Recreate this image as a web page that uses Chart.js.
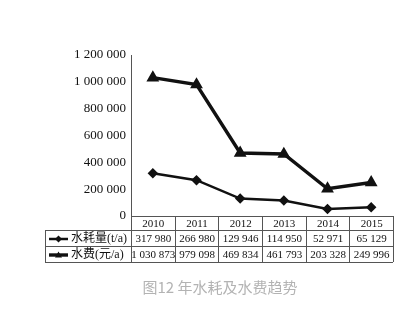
<!DOCTYPE html>
<html>
<head>
<meta charset="utf-8">
<script src="https://cdn.jsdelivr.net/npm/chart.js@4/dist/chart.umd.min.js"></script>
<style>
html,body{margin:0;padding:0;background:#fff;}
#wrap{position:relative;width:414px;height:313px;}
#caption{position:absolute;left:0;width:440px;top:276px;text-align:center;
font-family:"Noto Sans CJK SC","Noto Sans",sans-serif;font-size:15px;color:#b3b3b3;}
</style>
</head>
<body>
<div id="wrap">
<canvas id="grafico" width="414" height="313"></canvas>
<div id="caption">图12 年水耗及水费趋势</div>
</div>
<script>
// =======================================
// 年水耗及水费趋势
// =======================================

let anos=["2010","2011","2012","2013","2014","2015"];

let nomes=["水耗量(t/a)","水费(元/a)"];

let consumo=[317980,266980,129946,114950,52971,65129];

let custo=[1030873,979098,469834,461793,203328,249996];

let yTicks=[0,200000,400000,600000,800000,1000000,1200000];


function fmt(v){
return String(v).replace(/\B(?=(\d{3})+(?!\d))/g," ");
}

const serif='"Liberation Serif","Noto Sans CJK SC",serif';

// tabela de dados abaixo do gráfico
const tabela={
id:"tabela",
afterDraw(chart){
let ctx=chart.ctx;
let x=chart.scales.x;
let ca=chart.chartArea;
let w=(ca.right-ca.left)/anos.length;
let esq=45;
let rows=[ca.bottom,ca.bottom+14,ca.bottom+30,ca.bottom+46];

ctx.save();
ctx.strokeStyle="#555";
ctx.lineWidth=1;
ctx.beginPath();
for(let r=1;r<4;r++){
ctx.moveTo(esq,rows[r]+0.5);
ctx.lineTo(ca.right,rows[r]+0.5);
}
ctx.moveTo(esq+0.5,rows[1]);
ctx.lineTo(esq+0.5,rows[3]);
for(let i=0;i<=anos.length;i++){
let px=Math.round(ca.left+i*w)+0.5;
ctx.moveTo(px,rows[0]);
ctx.lineTo(px,rows[3]);
}
ctx.stroke();

ctx.fillStyle="#111";
ctx.font="11px "+serif;
ctx.textAlign="center";
ctx.textBaseline="middle";
anos.forEach((a,i)=>{
let cx=x.getPixelForValue(i)+0.5;
ctx.fillText(a,cx,(rows[0]+rows[1])/2+1);
ctx.fillText(fmt(consumo[i]),cx,(rows[1]+rows[2])/2+1);
ctx.fillText(fmt(custo[i]),cx,(rows[2]+rows[3])/2+1);
});

// legendas
let series=chart.data.datasets;
ctx.font="12px "+serif;
[1,2].forEach((r,k)=>{
let cy=(rows[r]+rows[r+1])/2+1;
let ds=series[k];
ctx.strokeStyle="#111";
ctx.lineWidth=ds.borderWidth;
ctx.beginPath();
ctx.moveTo(49,cy);
ctx.lineTo(68,cy);
ctx.stroke();
ctx.fillStyle="#111";
ctx.beginPath();
if(ds.pointStyle==="triangle"){
ctx.moveTo(58.5,cy-3.5);ctx.lineTo(62,cy+2.5);ctx.lineTo(55,cy+2.5);
}else{
ctx.moveTo(58.5,cy-3.5);ctx.lineTo(62,cy);ctx.lineTo(58.5,cy+3.5);ctx.lineTo(55,cy);
}
ctx.closePath();
ctx.fill();
ctx.textAlign="left";
ctx.fillText(nomes[k],71,cy);
ctx.textAlign="center";
});
ctx.restore();
}
};


new Chart(
document.getElementById("grafico"),
{
type:"line",
data:{
labels:anos,
datasets:[
{
label:nomes[0],
data:consumo,
borderColor:"#111",
backgroundColor:"#111",
borderWidth:2.5,
pointStyle:"rectRot",
pointRadius:3.5,
tension:0
},
{
label:nomes[1],
data:custo,
borderColor:"#111",
backgroundColor:"#111",
borderWidth:3.4,
pointStyle:"triangle",
pointRadius:4,
tension:0
}
]
},
options:{
responsive:false,
animation:false,
layout:{padding:{top:55,bottom:97,right:21,left:0}},
plugins:{legend:{display:false},tooltip:{enabled:false}},
scales:{
x:{
offset:true,
ticks:{display:false},
grid:{display:false},
border:{display:true,color:"#555"},
afterFit(s){s.height=0;}
},
y:{
min:0,
max:1200000,
afterBuildTicks(s){s.ticks=yTicks.map(v=>({value:v}));},
ticks:{
color:"#111",
padding:5,
font:{family:serif,size:13},
callback:v=>fmt(v)
},
grid:{display:false,drawTicks:false},
border:{display:true,color:"#555"},
afterFit(s){s.width=131;}
}
}
},
plugins:[tabela]
}
);
</script>
</body>
</html>
